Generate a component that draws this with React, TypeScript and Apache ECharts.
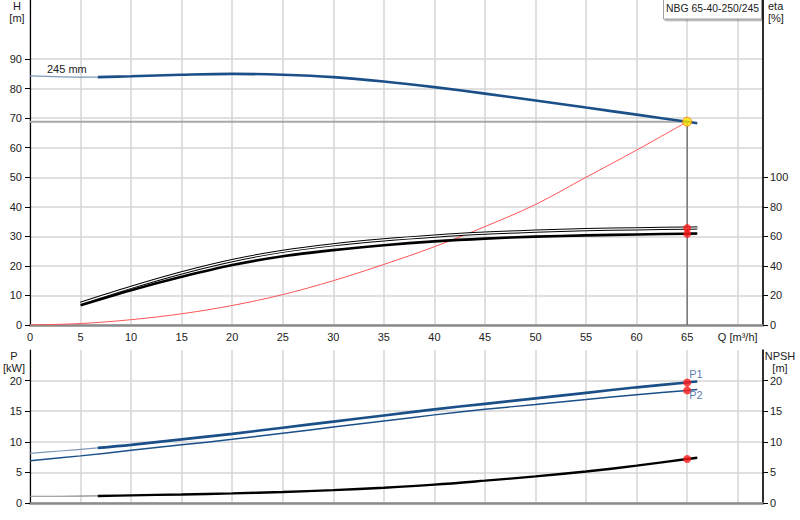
import { useEffect, useRef } from 'react';
import * as echarts from 'echarts';

const FONT = '"Liberation Sans", Arial, sans-serif';
const TXT = '#222';
const GRIDC = '#d6d6d6';
const BLUE = '#1b4f88';

// duty point
const opQ = 65;
const opH = 68.8;

// head curve (thin start, then main part)
const hThinQ = [0, 3, 6.7];
const hThinH = [84.3, 84.0, 83.9];
const hQ = [6.7, 10, 15, 20, 25, 30, 35, 40, 45, 50, 55, 60, 65, 66];
const hH = [83.9, 84.2, 84.7, 85.0, 84.7, 83.9, 82.4, 80.5, 78.3, 76.0, 73.6, 71.2, 68.8, 68.3];

// system curve
const sysQ = [0, 5, 10, 15, 20, 25, 30, 35, 40, 45, 50, 55, 60, 65];
const sysH = [0, 0.5, 1.8, 3.8, 6.6, 10.3, 15, 20.5, 26.5, 33.3, 40.8, 50, 59.2, 68.8];

// efficiency curves [%]
const etaQ = [5, 10, 15, 20, 25, 30, 35, 40, 45, 50, 55, 60, 65, 66];
const eta1 = [14.7, 25.5, 35.3, 43.6, 49.9, 54.3, 57.6, 60.2, 62.2, 63.5, 64.5, 65.1, 65.6, 65.7];
const eta2 = [13.3, 23.5, 32.6, 40.6, 46.5, 50.7, 54.0, 56.6, 58.5, 59.8, 60.7, 61.3, 61.8, 61.9];

// power P1 / P2 [kW]
const p1ThinQ = [0, 3, 6.7];
const p1Thin = [8.1, 8.5, 9.0];
const p1Q = [6.7, 10, 15, 20, 25, 30, 35, 40, 45, 50, 55, 60, 65, 66];
const p1 = [9.0, 9.5, 10.4, 11.3, 12.3, 13.3, 14.3, 15.3, 16.2, 17.1, 18.0, 18.9, 19.7, 19.85];
const p2Q = [0, 5, 10, 15, 20, 25, 30, 35, 40, 45, 50, 55, 60, 65, 66];
const p2 = [6.9, 7.7, 8.6, 9.5, 10.4, 11.4, 12.4, 13.4, 14.4, 15.3, 16.1, 16.9, 17.7, 18.4, 18.55];

// NPSH [m]
const npshThinQ = [0, 3, 6.7];
const npshThin = [1.1, 1.1, 1.15];
const npshQ = [6.7, 10, 15, 20, 25, 30, 35, 40, 45, 50, 55, 60, 65, 66];
const npsh = [1.15, 1.25, 1.4, 1.57, 1.8, 2.1, 2.5, 3.0, 3.65, 4.35, 5.15, 6.1, 7.2, 7.4];

const qTicks = [0, 5, 10, 15, 20, 25, 30, 35, 40, 45, 50, 55, 60, 65, 70];
const hTicks = [0, 10, 20, 30, 40, 50, 60, 70, 80, 90];
const etaTicks = [0, 20, 40, 60, 80, 100];
const pTicks = [0, 5, 10, 15, 20];

const zip = (xs: number[], ys: number[]) => xs.map((x, i) => [x, ys[i]]);
const at = (xs: number[], ys: number[], q: number) => ys[xs.indexOf(q)];

const label = { color: TXT, fontSize: 11, fontFamily: FONT };

function line(name: string, data: number[][], color: string, width: number, xi: number, yi: number, z = 3) {
  return {
    name, type: 'line', xAxisIndex: xi, yAxisIndex: yi, data, z,
    smooth: 0.35, symbol: 'none', lineStyle: { color, width }, silent: true,
  };
}

function txt(text: string, x: number, y: number, align = 'center', size = 11) {
  return {
    type: 'text', x, y, z: 20,
    style: { text, font: `${size}px ${FONT}`, fill: TXT, align, textAlign: align, verticalAlign: 'middle', textVerticalAlign: 'middle' },
  };
}

export default function App() {
  const ref = useRef<HTMLDivElement>(null);

  useEffect(() => {
    if (!ref.current) return;
    const chart = echarts.init(ref.current, null, { renderer: 'svg' });

    const xAxis = (gi: number, showLabel: boolean) => ({
      type: 'value', gridIndex: gi, min: 0, max: 72.5, interval: 5,
      axisLine: { show: true, onZero: false, lineStyle: { color: '#8a8a8a', width: 2.5 } },
      axisTick: { show: false },
      axisLabel: {
        show: showLabel, ...label, margin: 6, customValues: qTicks,
        formatter: (v: number) => (v === 70 ? 'Q [m³/h]' : String(v)),
      },
      splitLine: { show: true, lineStyle: { color: GRIDC, width: 1.5 } },
    });

    const yAxis = (gi: number, pos: string, max: number, interval: number, ticks: number[], grid: boolean) => ({
      type: 'value', gridIndex: gi, position: pos, min: 0, max, interval,
      axisLine: { show: true, onZero: false, lineStyle: { color: '#000', width: pos === 'left' ? 1.2 : 1.6 } },
      axisTick: { show: true, length: 5, customValues: ticks, lineStyle: { color: '#000' } },
      axisLabel: { ...label, margin: pos === 'left' ? 8 : 7, customValues: ticks },
      splitLine: { show: grid, lineStyle: { color: GRIDC, width: 1.5 } },
    });

    chart.setOption({
      animation: false,
      backgroundColor: '#fff',
      grid: [
        { left: 30, top: 0, width: 733, height: 325 },
        { left: 30, top: 350, width: 733, height: 153 },
      ],
      xAxis: [xAxis(0, true), xAxis(1, false)],
      yAxis: [
        yAxis(0, 'left', 110, 10, hTicks, true),
        yAxis(0, 'right', 220, 20, etaTicks, false),
        yAxis(1, 'left', 25, 5, pTicks, true),
        yAxis(1, 'right', 25, 5, pTicks, false),
      ],
      graphic: [
        txt('H', 17, 6), txt('[m]', 17, 18),
        txt('eta', 768, 6, 'left'), txt('[%]', 768, 18, 'left'),
        txt('P', 14, 356), txt('[kW]', 14, 368),
        txt('NPSH', 780, 356), txt('[m]', 780, 368),
        txt('245 mm', 47, 69, 'left'),
        {
          type: 'rect', z: 19, shape: { x: 663.5, y: -1, width: 98, height: 20 },
          style: { fill: '#fff', stroke: '#a0a0a0', lineWidth: 1, shadowColor: 'rgba(0,0,0,0.35)', shadowOffsetX: 1.5, shadowOffsetY: 1.5, shadowBlur: 1 },
        },
        txt('NBG 65-40-250/245', 712.5, 8.5, 'center', 10.4),
      ],
      series: [
        // duty point guide lines
        line('opH', [[0, opH], [opQ, opH]], '#a8a8a8', 2, 0, 0, 2),
        line('opV', [[opQ, opH], [opQ, 0]], '#606060', 1.2, 0, 0, 2),
        line('sys', zip(sysQ, sysH), '#ff5555', 1, 0, 0),
        line('Hthin', zip(hThinQ, hThinH), '#7f98b8', 1.2, 0, 0),
        line('H', zip(hQ, hH), BLUE, 2.6, 0, 0),
        line('eta1', zip(etaQ, eta1), '#000', 3.2, 0, 1),
        line('eta1in', zip(etaQ, eta1), '#fff', 1.2, 0, 1, 4),
        line('eta2', zip(etaQ, eta2), '#000', 2.6, 0, 1),
        {
          type: 'scatter', xAxisIndex: 0, yAxisIndex: 1, z: 6, symbolSize: 8,
          itemStyle: { color: '#ff1a1a' },
          data: [[opQ, at(etaQ, eta1, opQ)], [opQ, at(etaQ, eta2, opQ)]],
        },
        {
          type: 'scatter', xAxisIndex: 0, yAxisIndex: 0, z: 7, symbolSize: 9,
          itemStyle: { color: '#ffe800', borderColor: '#ff7a00', borderWidth: 1 },
          data: [[opQ, opH]],
        },
        // power and NPSH
        line('P1thin', zip(p1ThinQ, p1Thin), '#7f98b8', 1.2, 1, 2),
        line('P1', zip(p1Q, p1), BLUE, 2.6, 1, 2),
        line('P2', zip(p2Q, p2), BLUE, 1.5, 1, 2),
        line('NPSHthin', zip(npshThinQ, npshThin), '#8a8a8a', 1.2, 1, 3),
        line('NPSH', zip(npshQ, npsh), '#000', 2.4, 1, 3),
        {
          type: 'scatter', xAxisIndex: 1, yAxisIndex: 2, z: 6, symbolSize: 8,
          itemStyle: { color: '#ff1a1a' },
          label: { show: true, fontSize: 11, fontFamily: FONT, color: '#2a5a98', align: 'left', verticalAlign: 'top' },
          data: [
            { value: [opQ, at(p1Q, p1, opQ)], label: { formatter: 'P1', position: [6, -10] } },
            { value: [opQ, at(p2Q, p2, opQ)], label: { formatter: 'P2', position: [6, 3] } },
          ],
        },
        {
          type: 'scatter', xAxisIndex: 1, yAxisIndex: 3, z: 6, symbolSize: 8,
          itemStyle: { color: '#ff1a1a' },
          data: [[opQ, at(npshQ, npsh, opQ)]],
        },
      ],
    });

    return () => chart.dispose();
  }, []);

  return <div ref={ref} style={{ position: 'fixed', left: 0, top: 0, width: 800, height: 520 }} />;
}
